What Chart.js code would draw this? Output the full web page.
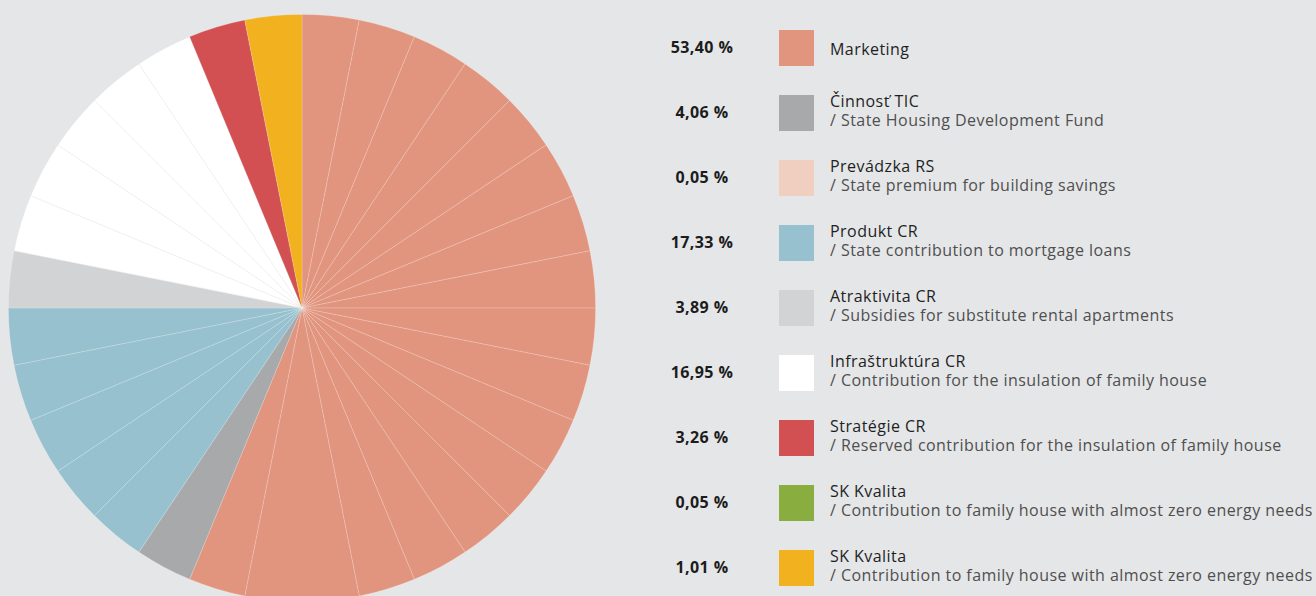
<!DOCTYPE html>
<html>
<head>
<meta charset="utf-8">
<script src="https://cdn.jsdelivr.net/npm/chart.js@4"></script>
<style>
  html, body {
    margin: 0;
    padding: 0;
    width: 1316px;
    height: 596px;
    overflow: hidden;
    background: #e5e6e8;
    font-family: "Open Sans", sans-serif;
  }
  #pieWrap {
    position: absolute;
    left: 8px;
    top: 14px;
    width: 588px;
    height: 588px;
  }
  #legend {
    position: absolute;
    left: 660px;
    top: 0;
  }
  .row {
    position: absolute;
    left: 0;
    width: 660px;
    height: 36px;
  }
  .pct {
    position: absolute;
    left: 0;
    width: 84px;
    text-align: center;
    top: -1px;
    line-height: 36px;
    font-weight: 700;
    font-size: 16px;
    letter-spacing: 0.4px;
    color: #1c1c1c;
  }
  .swatch {
    position: absolute;
    left: 119px;
    top: 0;
    width: 35px;
    height: 36px;
  }
  .txt {
    position: absolute;
    left: 170px;
    top: 50%;
    transform: translateY(calc(-50% - 2px));
    white-space: nowrap;
    font-size: 16px;
    letter-spacing: 0.45px;
    line-height: 19px;
  }
  .txt.single {
    transform: translateY(calc(-50% + 1px));
  }
  .title { color: #1f1f1f; }
  .sub { color: #4f4f4f; }
</style>
</head>
<body>
<div id="pieWrap"><canvas id="pie" width="588" height="588"></canvas></div>
<div id="legend"></div>

<script>
// categories as in the legend
const labels = [
    "Marketing",
    "Činnosť TIC",
    "Prevádzka RS",
    "Produkt CR",
    "Atraktivita CR",
    "Infraštruktúra CR",
    "Stratégie CR",
    "SK Kvalita",
    "SK Kvalita"
];

const subLabels = [
    "",
    "/ State Housing Development Fund",
    "/ State premium for building savings",
    "/ State contribution to mortgage loans",
    "/ Subsidies for substitute rental apartments",
    "/ Contribution for the insulation of family house",
    "/ Reserved contribution for the insulation of family house",
    "/ Contribution to family house with almost zero energy needs",
    "/ Contribution to family house with almost zero energy needs"
];

const percents = ["53,40 %", "4,06 %", "0,05 %", "17,33 %", "3,89 %", "16,95 %", "3,26 %", "0,05 %", "1,01 %"];

// the pie is drawn as wedges of 1/32 of the circle;
// each category lists its wedge sizes (marketing has one double wedge at the bottom)
const wedgeSizes = [
    [1, 1, 1, 1, 1, 1, 1, 1, 1, 1, 1, 1, 1, 1, 1, 2, 1],
    [1],
    [],
    [1, 1, 1, 1, 1],
    [1],
    [1, 1, 1, 1, 1],
    [1],
    [],
    [1]
];

const colors = ["#e2957e", "#a8a9aa", "#f0cfc1", "#97c1cf", "#d2d3d5", "#ffffff", "#d35052", "#8aad3f", "#f2b21f"];

/* =========================
   wedges
========================= */
const wedgeData = [];
const wedgeColors = [];
const wedgeBorders = [];

wedgeSizes.forEach((sizes, i) => {
    sizes.forEach(size => {
        wedgeData.push(size);
        wedgeColors.push(colors[i]);
        wedgeBorders.push(colors[i] === "#ffffff" ? "rgba(228,228,228,0.45)" : "rgba(255,255,255,0.22)");
    });
});

new Chart(document.getElementById("pie"), {
    type: "pie",
    data: {
        labels: wedgeData.map((v, i) => "w" + i),
        datasets: [{
            data: wedgeData,
            backgroundColor: wedgeColors,
            borderColor: wedgeBorders,
            borderWidth: 0.8
        }]
    },
    options: {
        responsive: false,
        animation: false,
        layout: { padding: 0 },
        plugins: {
            legend: { display: false },
            tooltip: { enabled: false }
        }
    }
});

/* =========================
   legend
========================= */
const legend = document.getElementById("legend");

labels.forEach((name, i) => {
    const row = document.createElement("div");
    row.className = "row";
    row.style.top = (29.5 + i * 65.1) + "px";

    let html = `<div class="pct">${percents[i]}</div>`;
    html += `<div class="swatch" style="background:${colors[i]}"></div>`;
    html += `<div class="txt${subLabels[i] ? "" : " single"}"><div class="title">${name}</div>`;
    if (subLabels[i]) {
        html += `<div class="sub">${subLabels[i]}</div>`;
    }
    html += `</div>`;

    row.innerHTML = html;
    legend.appendChild(row);
});
</script>
</body>
</html>
